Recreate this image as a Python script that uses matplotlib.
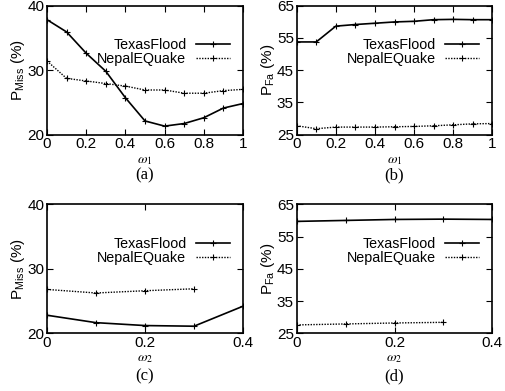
import matplotlib
matplotlib.use("Agg")
import matplotlib.pyplot as plt

plt.rcParams['font.family'] = ['Liberation Sans', 'DejaVu Sans']
plt.rcParams['mathtext.fontset'] = 'stix'

w1 = [0, 0.1, 0.2, 0.3, 0.4, 0.5, 0.6, 0.7, 0.8, 0.9, 1.0]
a_texas = [37.8, 35.9, 32.6, 29.8, 25.7, 22.1, 21.3, 21.7, 22.6, 24.1, 24.8]
a_nepal = [31.4, 28.7, 28.3, 27.9, 27.5, 26.9, 26.9, 26.4, 26.4, 26.8, 27.0]
b_texas = [53.7, 53.7, 58.6, 59.1, 59.5, 59.9, 60.1, 60.6, 60.7, 60.6, 60.6]
b_nepal = [27.7, 26.8, 27.3, 27.3, 27.3, 27.4, 27.5, 27.7, 28.0, 28.3, 28.4]

w2_texas = [0, 0.1, 0.2, 0.3, 0.4]
w2_nepal = [0, 0.1, 0.2, 0.3]
c_texas = [22.8, 21.65, 21.2, 21.1, 24.2]
c_nepal = [26.8, 26.25, 26.6, 26.9]
d_texas = [59.7, 60.0, 60.3, 60.4, 60.3]
d_nepal = [27.6, 27.9, 28.2, 28.4]

labels = ['TexasFlood', 'NepalEQuake']
captions = ['(a)', '(b)', '(c)', '(d)']

W, H = 505, 391
fig = plt.figure(figsize=(W/100, H/100), dpi=100)

def ax_at(l, t, r, b):
    return fig.add_axes([l/W, 1 - b/H, (r-l)/W, (b-t)/H])

axes = [ax_at(47, 5.5, 243, 134.5), ax_at(296.7, 5.5, 492.3, 134.5),
        ax_at(47, 204.3, 243, 333.3), ax_at(296.7, 204.3, 492.3, 333.3)]
cap_y = [175, 175, 376, 376]
ax_bottom = [134.5, 134.5, 333.3, 333.3]

specs = [
    (w1, a_texas, w1, a_nepal, (0, 1), [0, 0.2, 0.4, 0.6, 0.8, 1.0], ['0', '0.2', '0.4', '0.6', '0.8', '1'], (20, 40), [20, 30, 40], 'Miss', r'$\omega_1$'),
    (w1, b_texas, w1, b_nepal, (0, 1), [0, 0.2, 0.4, 0.6, 0.8, 1.0], ['0', '0.2', '0.4', '0.6', '0.8', '1'], (25, 65), [25, 35, 45, 55, 65], 'Fa', r'$\omega_1$'),
    (w2_texas, c_texas, w2_nepal, c_nepal, (0, 0.4), [0, 0.2, 0.4], ['0', '0.2', '0.4'], (20, 40), [20, 30, 40], 'Miss', r'$\omega_2$'),
    (w2_texas, d_texas, w2_nepal, d_nepal, (0, 0.4), [0, 0.2, 0.4], ['0', '0.2', '0.4'], (25, 65), [25, 35, 45, 55, 65], 'Fa', r'$\omega_2$'),
]

for i, (ax, spec, cap) in enumerate(zip(axes, specs, captions)):
    xt, yt, xn, yn, xlim, xticks, xtl, ylim, yticks, sub, xl = spec
    ax.plot(xt, yt, color='black', lw=1.2, marker='+', ms=4, mew=0.8, label=labels[0])
    ax.plot(xn, yn, color='black', lw=1.0, ls=(0, (1, 1)), marker='+', ms=4, mew=0.8, label=labels[1])
    ax.set_xlim(*xlim)
    ax.set_ylim(*ylim)
    ax.set_xticks(xticks)
    ax.set_xticklabels(xtl)
    ax.set_yticks(yticks)
    ax.tick_params(direction='in', top=True, right=True, length=4, width=0.8,
                   labelsize=11, pad=2)
    for s in ax.spines.values():
        s.set_linewidth(1.2)
    ax.set_ylabel(r'P$_{\mathregular{' + sub + '}}$ (%)', fontsize=11, labelpad=0)
    ax.set_xlabel(xl, fontsize=10, labelpad=1)
    ax.legend(loc='upper right', bbox_to_anchor=(0.934, 0.745), frameon=False,
              markerfirst=False, fontsize=10.3, handlelength=2.4, handletextpad=0.65,
              labelspacing=0.0, borderpad=0, borderaxespad=0)
    ax.text(0.5, -(cap_y[i] - ax_bottom[i]) / 129, cap, transform=ax.transAxes,
            ha='center', va='center', fontsize=12, family='Liberation Serif')

fig.savefig('out.png', dpi=100)
